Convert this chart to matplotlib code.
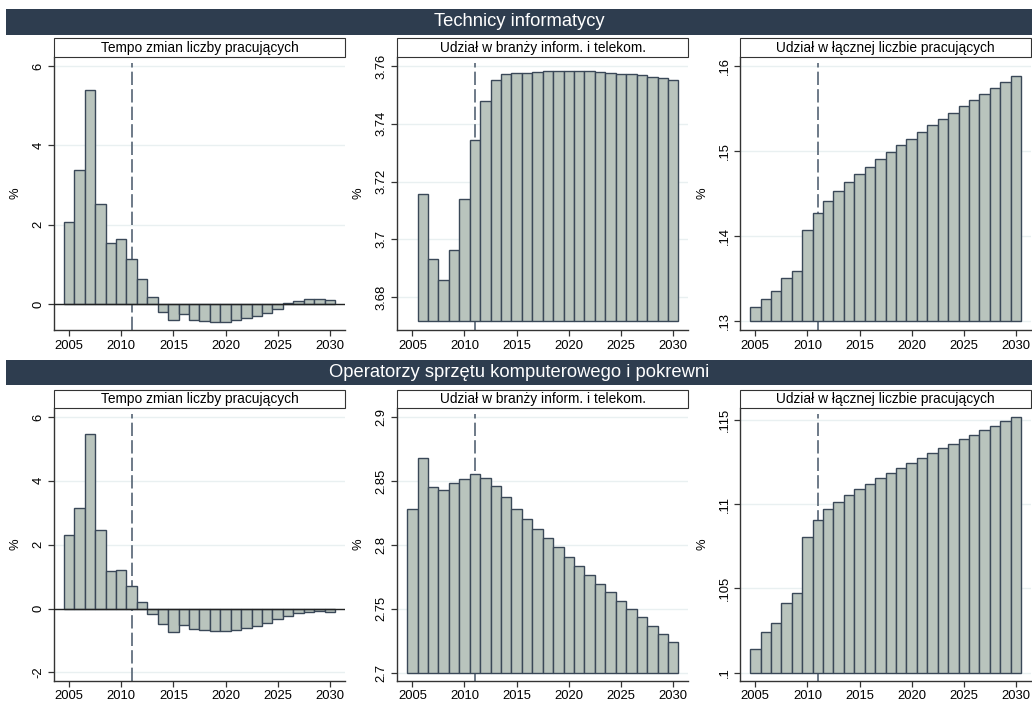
import numpy as np
import matplotlib
matplotlib.use("Agg")
import matplotlib.pyplot as plt
from matplotlib.patches import Rectangle

plt.rcParams["font.family"] = ["Liberation Sans", "DejaVu Sans"]

# ── data ────────────────────────────────────────────────────────────────────
years = list(range(2005, 2031))

groups = ["Technicy informatycy",
          "Operatorzy sprzętu komputerowego i pokrewni"]
panel_titles = ["Tempo zmian liczby pracujących",
                "Udział w branży inform. i telekom.",
                "Udział w łącznej liczbie pracujących"]

# Technicy informatycy
tempo_tech = [2.08, 3.37, 5.39, 2.53, 1.55, 1.64, 1.15, 0.63, 0.19, -0.19,
              -0.40, -0.24, -0.40, -0.43, -0.44, -0.44, -0.40, -0.35, -0.29,
              -0.23, -0.12, 0.02, 0.09, 0.13, 0.13, 0.11]
branza_tech = [3.7158, 3.6932, 3.6859, 3.6964, 3.7139, 3.7345, 3.7478, 3.7550,
               3.7572, 3.7575, 3.7577, 3.7579, 3.7582, 3.7583, 3.7583, 3.7583,
               3.7582, 3.7579, 3.7577, 3.7573, 3.7571, 3.7568, 3.7563, 3.7558,
               3.7553]   # 2006-2030
laczna_tech = [0.13164, 0.13258, 0.13360, 0.13505, 0.13591, 0.14069, 0.14273,
               0.14414, 0.14531, 0.14637, 0.14727, 0.14813, 0.14903, 0.14986,
               0.15068, 0.15142, 0.15221, 0.15303, 0.15377, 0.15448, 0.15526,
               0.15601, 0.15667, 0.15742, 0.15816, 0.15879]

# Operatorzy sprzętu komputerowego i pokrewni
tempo_oper = [2.31, 3.16, 5.48, 2.46, 1.17, 1.20, 0.70, 0.22, -0.17, -0.48,
              -0.72, -0.52, -0.65, -0.67, -0.69, -0.69, -0.67, -0.61, -0.55,
              -0.46, -0.33, -0.23, -0.15, -0.11, -0.08, -0.10]
branza_oper = [2.8278, 2.8682, 2.8452, 2.8426, 2.8484, 2.8512, 2.8551, 2.8520,
               2.8463, 2.8377, 2.8283, 2.8205, 2.8126, 2.8053, 2.7980, 2.7907,
               2.7832, 2.7764, 2.7696, 2.7628, 2.7563, 2.7495, 2.7433, 2.7365,
               2.7302, 2.7237]
laczna_oper = [0.101387, 0.102398, 0.102972, 0.104141, 0.104716, 0.108045,
               0.109095, 0.109709, 0.110145, 0.110542, 0.110898, 0.111196,
               0.111552, 0.111849, 0.112147, 0.112444, 0.112761, 0.113038,
               0.113336, 0.113593, 0.113871, 0.114128, 0.114406, 0.114643,
               0.114941, 0.115178]

# y ticks and their labels per panel
yt_tempo_tech = [0, 2, 4, 6]
yl_tempo_tech = ["0", "2", "4", "6"]
yt_branza_tech = [3.68, 3.70, 3.72, 3.74, 3.76]
yl_branza_tech = ["3.68", "3.7", "3.72", "3.74", "3.76"]
yt_laczna_tech = [0.13, 0.14, 0.15, 0.16]
yl_laczna_tech = [".13", ".14", ".15", ".16"]
yt_tempo_oper = [-2, 0, 2, 4, 6]
yl_tempo_oper = ["-2", "0", "2", "4", "6"]
yt_branza_oper = [2.70, 2.75, 2.80, 2.85, 2.90]
yl_branza_oper = ["2.7", "2.75", "2.8", "2.85", "2.9"]
yt_laczna_oper = [0.100, 0.105, 0.110, 0.115]
yl_laczna_oper = [".1", ".105", ".11", ".115"]

FORECAST_START = 2011

# ── style ───────────────────────────────────────────────────────────────────
W, H = 1032, 704
BAND = "#2e3d4f"
FILL = "#b9c4bd"
EDGE = "#3a4858"
AXC = "#333333"
GRID = "#e9f0f1"
DASH = "#556474"

def rect(x0, y0, x1, y1):
    """pixel box (top-left origin) -> figure fraction rect"""
    return [x0 / W, 1 - y1 / H, (x1 - x0) / W, (y1 - y0) / H]

fig = plt.figure(figsize=(W / 100, H / 100), dpi=100)

col_x = [(54, 345), (397.3, 688.3), (740.3, 1031)]
rows = [
    dict(band=(9, 35), box=(38.3, 57.3), plot=(57.3, 330)),
    dict(band=(360, 385), box=(389.5, 408.3), plot=(408.3, 680.7)),
]

panels = [
    [  # top row
        dict(x=years, y=tempo_tech, base=0, ylim=(-0.65, 6.22),
             yt=yt_tempo_tech, yl=yl_tempo_tech, zero=True),
        dict(x=years[1:], y=branza_tech, base=3.6716, ylim=(3.6686, 3.763),
             yt=yt_branza_tech, yl=yl_branza_tech, zero=False),
        dict(x=years, y=laczna_tech, base=0.13, ylim=(0.12898, 0.16102),
             yt=yt_laczna_tech, yl=yl_laczna_tech, zero=False),
    ],
    [  # bottom row
        dict(x=years, y=tempo_oper, base=0, ylim=(-2.26, 6.27),
             yt=yt_tempo_oper, yl=yl_tempo_oper, zero=True),
        dict(x=years, y=branza_oper, base=2.70, ylim=(2.6937, 2.9068),
             yt=yt_branza_oper, yl=yl_branza_oper, zero=False),
        dict(x=years, y=laczna_oper, base=0.10, ylim=(0.09952, 0.11571),
             yt=yt_laczna_oper, yl=yl_laczna_oper, zero=False),
    ],
]

for r, row in enumerate(rows):
    # dark header band with group name
    b0, b1 = row["band"]
    fig.add_artist(Rectangle((6 / W, 1 - b1 / H), (W - 6) / W, (b1 - b0) / H,
                             transform=fig.transFigure, facecolor=BAND,
                             edgecolor="none"))
    fig.text(519 / W, 1 - (b0 + b1) / 2 / H, groups[r], color="white",
             ha="center", va="center", fontsize=13.2)

    for c, (x0, x1) in enumerate(col_x):
        p = panels[r][c]
        # subtitle box
        s0, s1 = row["box"]
        fig.add_artist(Rectangle((x0 / W, 1 - s1 / H), (x1 - x0) / W, (s1 - s0) / H,
                                 transform=fig.transFigure, facecolor="white",
                                 edgecolor=AXC, linewidth=0.8))
        fig.text((x0 + x1) / 2 / W, 1 - (s0 + s1) / 2 / H, panel_titles[c],
                 ha="center", va="center", fontsize=9.9, color="black")

        y0, y1 = row["plot"]
        ax = fig.add_axes(rect(x0, y0, x1, y1))
        heights = np.array(p["y"]) - p["base"]
        ax.bar(p["x"], heights, bottom=p["base"], width=1.0, color=FILL,
               edgecolor=EDGE, linewidth=1.0, zorder=3)
        ylo, yhi = p["ylim"]
        ax.vlines(FORECAST_START, ylo, yhi - (yhi - ylo) * 0.02, color=DASH,
                  lw=1.2, linestyle=(0, (8, 2.5)), zorder=2)
        if p["zero"]:
            ax.axhline(0, color="#222222", lw=1.0, zorder=4)

        ax.set_xlim(2003.56, 2031.45)
        ax.set_ylim(ylo, yhi)
        ax.set_xticks([2005, 2010, 2015, 2020, 2025, 2030])
        ax.set_yticks(p["yt"])
        ax.set_yticklabels(p["yl"])
        plt.setp(ax.get_yticklabels(), rotation=90, va="center")
        ax.grid(axis="y", color=GRID, lw=1.0, zorder=0)
        ax.set_axisbelow(True)

        for s in ["top", "right"]:
            ax.spines[s].set_visible(False)
        for s in ["left", "bottom"]:
            ax.spines[s].set_color(AXC)
            ax.spines[s].set_linewidth(1.0)
        ax.tick_params(length=4, width=0.9, color=AXC, labelsize=9.4,
                       labelcolor="black", pad=3)
        ax.set_ylabel("%", fontsize=9.4)
        ax.yaxis.set_label_coords(-32.3 / (x1 - x0), 0.5)

fig.savefig("out.png", dpi=100, facecolor="white")
